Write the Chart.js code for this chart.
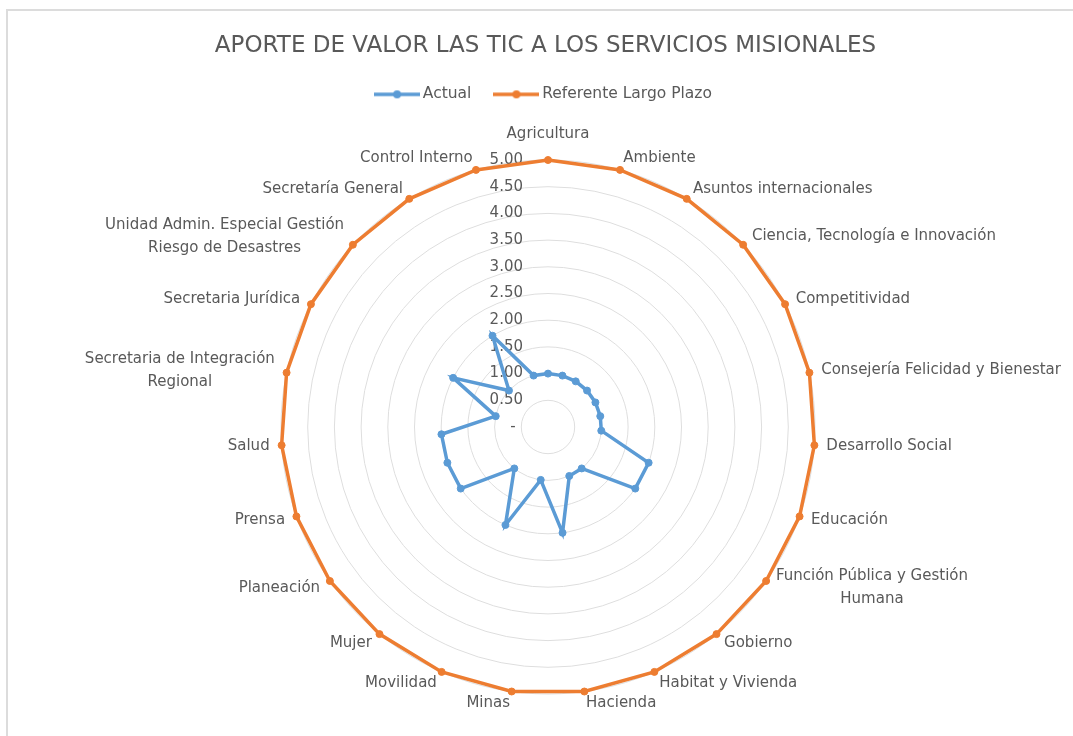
<!DOCTYPE html>
<html><head><meta charset="utf-8">
<script src="https://cdn.jsdelivr.net/npm/chart.js@4.4.1/dist/chart.umd.min.js"></script>
<style>
html,body{margin:0;padding:0;background:#fff;overflow:hidden;}
#wrap{position:relative;width:1073px;height:736px;overflow:hidden;}
#frame{position:absolute;left:6px;top:9px;right:-10px;bottom:-10px;border-left:2px solid #dcdcdc;border-top:2px solid #dcdcdc;pointer-events:none;}
canvas{display:block;}
</style></head>
<body><div id="wrap"><canvas id="c" width="1073" height="736" style="width:1073px;height:736px"></canvas><div id="frame"></div></div>
<script>
const titleText = 'APORTE DE VALOR LAS TIC A LOS SERVICIOS MISIONALES';
const categories = [
  'Agricultura',
  'Ambiente',
  'Asuntos internacionales',
  'Ciencia, Tecnología e Innovación',
  'Competitividad',
  'Consejería Felicidad y Bienestar',
  'Desarrollo Social',
  'Educación',
  ['Función Pública y Gestión', 'Humana'],
  'Gobierno',
  'Habitat y Vivienda',
  'Hacienda',
  'Minas',
  'Movilidad',
  'Mujer',
  'Planeación',
  'Prensa',
  'Salud',
  ['Secretaria de Integración', 'Regional'],
  'Secretaria Jurídica',
  ['Unidad Admin. Especial Gestión', 'Riesgo de Desastres'],
  'Secretaría General',
  'Control Interno'
];
const actualValues    = [1, 1, 1, 1, 1, 1, 1, 2, 2, 1, 1, 2, 1, 2, 1, 2, 2, 2, 1, 2, 1, 2, 1];
const referenteValues = [5, 5, 5, 5, 5, 5, 5, 5, 5, 5, 5, 5, 5, 5, 5, 5, 5, 5, 5, 5, 5, 5, 5];
const tickValues = ['-', '0.50', '1.00', '1.50', '2.00', '2.50', '3.00', '3.50', '4.00', '4.50', '5.00'];

const FONT = "'DejaVu Sans', sans-serif";
const TEXT = '#595959';
const BLUE = '#5B9BD5';
const ORANGE = '#ED7D31';

function legendImage(color) {
  const cv = document.createElement('canvas');
  cv.width = 46; cv.height = 12;
  const g = cv.getContext('2d');
  g.strokeStyle = color; g.lineWidth = 3.5; g.lineCap = 'butt';
  g.beginPath(); g.moveTo(0, 6); g.lineTo(46, 6); g.stroke();
  g.fillStyle = color; g.beginPath(); g.arc(23, 6, 4, 0, Math.PI * 2); g.fill();
  return cv;
}
const legendImages = [legendImage(BLUE), legendImage(ORANGE)];

const tickPlugin = {
  id: 'excelTicks',
  beforeDatasetsDraw(chart) {
    const s = chart.scales.r; const ctx = chart.ctx;
    ctx.save();
    ctx.font = '15px ' + FONT; ctx.fillStyle = TEXT; ctx.textBaseline = 'middle';
    s.ticks.forEach((t, i) => {
      const y = s.yCenter - s.getDistanceFromCenterForValue(t.value);
      const txt = tickValues[i] !== undefined ? tickValues[i] : t.label;
      if (txt === '-') { ctx.textAlign = 'center'; ctx.fillText(txt, s.xCenter - 35, y); }
      else { ctx.textAlign = 'right'; ctx.fillText(txt, s.xCenter - 25, y); }
    });
    ctx.restore();
  }
};

const labelPlugin = {
  id: 'excelLabels',
  afterDraw(chart) {
    const s = chart.scales.r; const ctx = chart.ctx;
    ctx.save();
    ctx.font = '15px ' + FONT; ctx.fillStyle = TEXT; ctx.textBaseline = 'middle'; ctx.textAlign = 'center';
    categories.forEach((lab, i) => {
      const lines = Array.isArray(lab) ? lab : [lab];
      const ang = s.getIndexAngle(i);
      const sn = Math.sin(ang), cs = Math.cos(ang);
      const p = s.getPointPosition(i, s.drawingArea + 12);
      const w = Math.max(...lines.map(l => ctx.measureText(l).width));
      const lh = 23;
      const h = lines.length === 1 ? 17 : lh * lines.length;
      let left;
      if (sn > 0.1) left = p.x; else if (sn < -0.1) left = p.x - w; else left = p.x - w / 2;
      const cy = p.y - (Math.abs(sn) <= 0.1 ? cs * (h / 2 + 5) : 0);
      lines.forEach((l, k) => {
        ctx.fillText(l, left + w / 2, cy - (lines.length * lh) / 2 + lh * (k + 0.5));
      });
    });
    ctx.restore();
  }
};

new Chart(document.getElementById('c'), {
  type: 'radar',
  data: {
    labels: categories,
    datasets: [
      { label: 'Actual', data: actualValues, borderColor: BLUE, backgroundColor: BLUE,
        pointBackgroundColor: BLUE, pointBorderColor: BLUE, borderWidth: 3.5, pointRadius: 3.5, pointBorderWidth: 1, pointHoverRadius: 3.5, fill: false },
      { label: 'Referente Largo Plazo', data: referenteValues, borderColor: ORANGE, backgroundColor: ORANGE,
        pointBackgroundColor: ORANGE, pointBorderColor: ORANGE, borderWidth: 3.5, pointRadius: 3.5, pointBorderWidth: 1, pointHoverRadius: 3.5, fill: false }
    ]
  },
  options: {
    responsive: false,
    animation: false,
    devicePixelRatio: 1,
    layout: { padding: { left: 18, right: 0, top: 0, bottom: 0 } },
    scales: {
      r: {
        min: 0, max: 5,
        ticks: { stepSize: 0.5, display: false },
        grid: { circular: true, color: '#dedede', lineWidth: 1 },
        angleLines: { display: false },
        pointLabels: { display: false },
        afterFit(scale) { scale.xCenter = 548; scale.yCenter = 427; scale.drawingArea = 267; }
      }
    },
    plugins: {
      title: { display: true, text: titleText, color: TEXT,
        font: { family: FONT, size: 23, weight: 'normal' }, padding: { top: 32, bottom: 0 } },
      legend: {
        display: true, position: 'top',
        labels: {
          color: TEXT, font: { family: FONT, size: 15.5 },
          usePointStyle: true, pointStyleWidth: 36, boxHeight: 14, padding: 27,
          generateLabels(chart) {
            const items = Chart.defaults.plugins.legend.labels.generateLabels(chart);
            items.forEach((it, i) => { it.pointStyle = legendImages[i]; });
            return items;
          }
        }
      },
      tooltip: { enabled: false }
    }
  },
  plugins: [tickPlugin, labelPlugin]
});
</script>
</body></html>
